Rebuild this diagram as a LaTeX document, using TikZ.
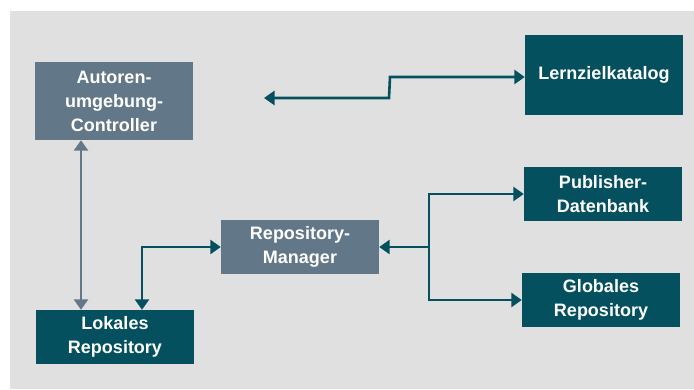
\documentclass[tikz,border=0pt]{standalone}
\usepackage{fontspec}
\setmainfont{Liberation Sans}
\usetikzlibrary{arrows.meta}
\definecolor{tealc}{HTML}{05505E}
\definecolor{grayc}{HTML}{627888}
\definecolor{bgc}{HTML}{DFE0DF}
\begin{document}
\begin{tikzpicture}[x=1pt,y=-1pt,
  box/.style={minimum width=158pt, inner sep=0pt, text=white, align=center,
    font=\bfseries\fontsize{18}{24}\selectfont},
  darkbox/.style={box, fill=tealc},
  graybox/.style={box, fill=grayc},
  tip/.tip={Triangle[length=10.5pt,width=14pt]},
  conn/.style={draw=tealc, line width=2.6pt},
  gconn/.style={draw=grayc, line width=2.6pt}]
\useasboundingbox (0,0) rectangle (694,389);
\fill[bgc] (10,11) rectangle (694,389);
\node[graybox, minimum height=78pt] (ac) at (114,101) {Autoren-\\umgebung-\\Controller};
\node[darkbox, minimum height=80pt] (lz) at (604,75) {Lernzielkatalog};
\node[darkbox, minimum height=54pt] (pd) at (603,194) {Publisher-\\Datenbank};
\node[darkbox, minimum height=54pt] (gr) at (601,300) {Globales\\Repository};
\node[graybox, minimum height=54pt] (rm) at (300,247) {Repository-\\Manager};
\node[darkbox, minimum height=54pt] (lr) at (115,337) {Lokales\\Repository};
% coordinates
\coordinate (x81) at (81,0);
\coordinate (x142) at (142,0);
\coordinate (lzend) at (264,98);
\coordinate (s1) at (389,98);
\coordinate (s2) at (390,77);
\coordinate (j) at (429,247);
% connectors
\draw[gconn, tip-tip] (x81 |- ac.south) -- (x81 |- lr.north);
\draw[conn, tip-tip] (lzend) -- (s1) -- (s2) -- (s2 -| lz.west);
\draw[conn, tip-tip] (rm.west) -| (x142 |- lr.north);
\draw[conn, -tip] (j) -- (rm.east);
\draw[conn, -tip] (j) |- (pd.west);
\draw[conn, -tip] (j) |- (gr.west);
\end{tikzpicture}
\end{document}
